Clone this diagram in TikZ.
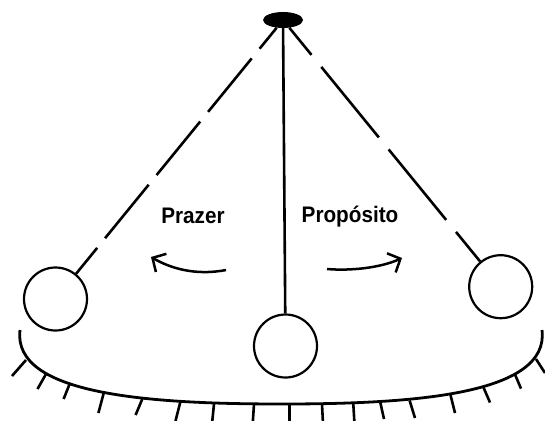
\documentclass[tikz,border=0pt]{standalone}
\usepackage{fontspec}
\setmainfont{Liberation Sans}
\newfontfamily\lblfont[FakeStretch=0.92]{Liberation Sans}
\usetikzlibrary{arrows.meta,shapes.geometric}
\begin{document}
\begin{tikzpicture}[x=1pt,y=-1pt,
  bob/.style={circle,draw,line width=2.2pt,minimum size=63pt,inner sep=0pt},
  rod/.style={line width=2.6pt},
  leftdash/.style={rod,dash pattern=on 69pt off 12.5pt,dash phase=42pt},
  rightdash/.style={rod,dash pattern=on 91pt off 15.5pt,dash phase=56pt},
  swing/.style={line width=2.5pt,-{Straight Barb[length=10pt,width=21pt]}},
  lbl/.style={font=\lblfont\fontsize{22.5}{22.5}\selectfont\bfseries,anchor=base,inner sep=0pt},
  hatch/.style={line width=2.6pt},
  basecurve/.style={line width=2.8pt}]
\useasboundingbox (0,0) rectangle (545,420);
\clip (0,0) rectangle (545,420);
% pivot and bobs
\node[ellipse,fill,minimum width=40pt,minimum height=16pt,inner sep=0pt] (pivot) at (283,20) {};
\node[bob] (left) at (55.5,299) {};
\node[bob] (mid) at (285.5,346) {};
\node[bob] (right) at (500.7,286.7) {};
% strings
\draw[leftdash] (pivot) -- (left);
\draw[rod] (pivot) -- (mid);
\draw[rightdash] (pivot) -- (right);
% labels
\node[lbl] (prazer) at (193,223) {Prazer};
\node[lbl] (proposito) at (350,222) {Propósito};
% swing arrows
\draw[swing] (226,270) .. controls (195,276) and (170,268) .. (151,257);
\draw[swing] (327,269) .. controls (350,271) and (380,268) .. (402,258);
% base
\draw[basecurve] (20,330) .. controls (12,395) and (150,404) .. (282,404) .. controls (412,404) and (550,395) .. (542,330);
% hatch marks
\foreach \ax/\ay/\bx/\by in {
  26/360/12/376, 46/374/37.5/389, 70/383/63.6/399, 104/392/98.4/413,
  142.3/399/135.6/415, 180.3/402/175.5/421, 214/404/212/424, 254/404/252.7/424,
  289.5/404/289.5/424, 322/404/323/424, 353.3/404/354.5/424, 380.2/402/384/419,
  409.6/400.5/415/418, 450.5/395/455/413, 483.3/387/490/402.5, 515/374.5/521/388.6,
  536/359/545/373}
  \draw[hatch] (\ax,\ay) -- (\bx,\by);
\end{tikzpicture}
\end{document}
